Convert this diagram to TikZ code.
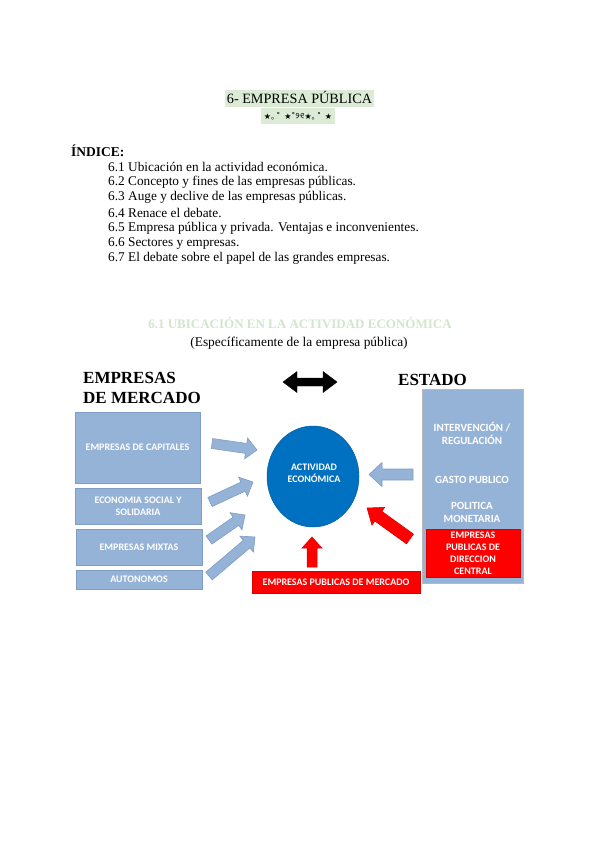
\documentclass[tikz,border=0pt]{standalone}
\usepackage{fontspec}
\setmainfont{Liberation Serif}
\newfontfamily\boxfont{Carlito}
\newfontfamily\symfont{DejaVu Sans}
\newfontfamily\cjkfont{Noto Sans CJK JP}
\newfontfamily\oriyafont[Script=Oriya]{Noto Sans Oriya UI}
\usetikzlibrary{calc,shapes.geometric}
\definecolor{boxblue}{HTML}{95B3D7}
\definecolor{boxedge}{HTML}{7F9DC6}
\definecolor{ellblue}{HTML}{0070C0}
\definecolor{hlgreen}{HTML}{DCEBD6}
\definecolor{headgreen}{HTML}{D2E6CB}
\definecolor{rededge}{HTML}{C00000}
% block arrow: #1 style, #2 tail, #3 tip, #4 shaft half width, #5 head half width, #6 head length
\newcommand{\blockarr}[6]{%
  \coordinate (neck-#2) at ($(#3)!#6!(#2)$);
  \draw[#1] ($(#2)!#4!90:(#3)$) -- ($(neck-#2)!#4!90:(#3)$) -- ($(neck-#2)!#5!90:(#3)$)
    -- (#3) -- ($(neck-#2)!#5!-90:(#3)$) -- ($(neck-#2)!#4!-90:(#3)$) -- ($(#2)!#4!-90:(#3)$) -- cycle;}
\begin{document}
\begin{tikzpicture}[x=1pt,y=-1pt,
  lbox/.style={rectangle, fill=boxblue, draw=boxedge, line width=0.6pt, text=white,
    font=\boxfont\bfseries\fontsize{10}{12}\selectfont, align=center, inner sep=0pt},
  rbox/.style={rectangle, fill=red, draw=rededge!60!red, line width=0.6pt, text=white,
    font=\boxfont\bfseries\fontsize{10}{12}\selectfont, align=center, inner sep=0pt},
  btext/.style={text=white, font=\boxfont\bfseries\fontsize{11}{12.5}\selectfont, align=center, inner sep=0pt},
  idx/.style={anchor=west, inner sep=0pt, font=\fontsize{13.3}{15}\selectfont},
  bluearr/.style={fill=boxblue, draw=boxedge, line width=0.6pt, line join=miter},
  redarr/.style={fill=red, draw=rededge!70!red, line width=0.5pt, line join=miter},
  blackarr/.style={fill=black, draw=black, line width=0.4pt, line join=miter}]
\fill[white] (0,0) rectangle (600,848);
\useasboundingbox (0,0) rectangle (600,848);

% title
\node[fill=hlgreen, inner xsep=1.5pt, inner ysep=0.5pt, text height=12pt, text depth=4pt,
  font=\fontsize{14.2}{16}\selectfont] (title) at (299.5,99) {6- EMPRESA PÚBLICA};
\node[fill=hlgreen, inner xsep=3pt, inner ysep=0pt, minimum height=16pt,
  font=\fontsize{8}{9}\selectfont] (stars) at (298,116)
  {{\symfont ★}{\cjkfont ｡}{\symfont\,˚\, ★˚}{\oriyafont ୨୧}{\symfont ★}{\cjkfont ｡}{\symfont\,˚\, ★}};

% index
\node[idx, font=\bfseries\fontsize{13.5}{15}\selectfont] (ind) at (71,151) {ÍNDICE:};
\node[idx] (i1) at (108,167) {6.1 Ubicación en la actividad económica.};
\node[idx] (i2) at (108,182.3) {6.2 Concepto y fines de las empresas públicas.};
\node[idx] (i3) at (108,197.6) {6.3 Auge y declive de las empresas públicas.};
\node[idx] (i4) at (108,212.9) {6.4 Renace el debate.};
\node[idx] (i5) at (108,228.2) {6.5 Empresa pública y privada. Ventajas e inconvenientes.};
\node[idx] (i6) at (108,243.5) {6.6 Sectores y empresas.};
\node[idx] (i7) at (108,258.8) {6.7 El debate sobre el papel de las grandes empresas.};

% section heading
\node[text=headgreen, font=\bfseries\fontsize{13}{15}\selectfont] (sec) at (300,323) {6.1 UBICACIÓN EN LA ACTIVIDAD ECONÓMICA};
\node[font=\fontsize{13.4}{15}\selectfont] (sub) at (299,343) {(Específicamente de la empresa pública)};

% headers
\node[anchor=west, align=left, inner sep=0pt, font=\bfseries\fontsize{17}{19.5}\selectfont] (mkt) at (83,388) {EMPRESAS\\DE MERCADO};
\node[anchor=west, inner sep=0pt, font=\bfseries\fontsize{17}{19.5}\selectfont] (est) at (398,380) {ESTADO};

% black double arrow
\coordinate (dl) at (283,382);
\coordinate (dr) at (337,382);
\coordinate (dm) at (310,382);
\blockarr{blackarr}{dm}{dr}{4pt}{10.5pt}{14pt}
\blockarr{blackarr}{dm}{dl}{4pt}{10.5pt}{14pt}

% left boxes
\node[lbox, minimum width=125pt, minimum height=71pt] (cap) at (137.5,447.5) {EMPRESAS DE CAPITALES};
\node[lbox, minimum width=126pt, minimum height=36pt, font=\boxfont\bfseries\fontsize{10}{12.5}\selectfont] (soc) at (138,506) {ECONOMIA SOCIAL Y\\SOLIDARIA};
\node[lbox, minimum width=126pt, minimum height=36pt] (mix) at (139,547) {EMPRESAS MIXTAS};
\node[lbox, minimum width=126pt, minimum height=19pt] (aut) at (139,579.5) {AUTONOMOS};

% central ellipse
\node[ellipse, fill=ellblue, draw=ellblue!85!black, line width=0.5pt, minimum width=92pt, minimum height=101pt,
  inner sep=0pt] (act) at (313,476.5) {};
\node[btext, font=\boxfont\bfseries\fontsize{10}{12}\selectfont] (actt) at (314,473) {ACTIVIDAD\\ECONÓMICA};

% right state box
\node[lbox, draw=gray!55, minimum width=101pt, minimum height=194pt] (estbox) at (472.5,486) {};
\node[btext] (interv) at (472,433.5) {INTERVENCIÓN /\\REGULACIÓN};
\node[btext] (gasto) at (472,480) {GASTO PUBLICO};
\node[btext] (pol) at (472,512.5) {POLITICA\\MONETARIA};
\node[rbox, minimum width=94pt, minimum height=48pt] (dir) at (473,553) {EMPRESAS\\PUBLICAS DE\\DIRECCION\\CENTRAL};

% bottom red box
\node[rbox, minimum width=168pt, minimum height=22pt] (merc) at (336,582) {EMPRESAS PUBLICAS DE MERCADO};

% left arrows
\coordinate (t1) at (212,443.5); \coordinate (h1) at (257,450);
\coordinate (t2) at (210,502);   \coordinate (h2) at (253,482);
\coordinate (t3) at (209,540);   \coordinate (h3) at (245,515);
\coordinate (t4) at (209,576);   \coordinate (h4) at (255,537);
\blockarr{bluearr}{t1}{h1}{5pt}{10.5pt}{11pt}
\blockarr{bluearr}{t2}{h2}{5pt}{10.5pt}{11pt}
\blockarr{bluearr}{t3}{h3}{5pt}{10.5pt}{11pt}
\blockarr{bluearr}{t4}{h4}{5pt}{10.5pt}{11pt}

% right blue arrow
\coordinate (tr) at (413,474.5); \coordinate (hr) at (369,474.5);
\blockarr{bluearr}{tr}{hr}{5.5pt}{12pt}{13pt}

% red arrows
\coordinate (td) at (410,539); \coordinate (hd) at (367,508);
\blockarr{redarr}{td}{hd}{6pt}{11pt}{14pt}
\coordinate (tu) at (312,567); \coordinate (hu) at (312,537);
\blockarr{redarr}{tu}{hu}{5pt}{10pt}{11pt}
\end{tikzpicture}
\end{document}
